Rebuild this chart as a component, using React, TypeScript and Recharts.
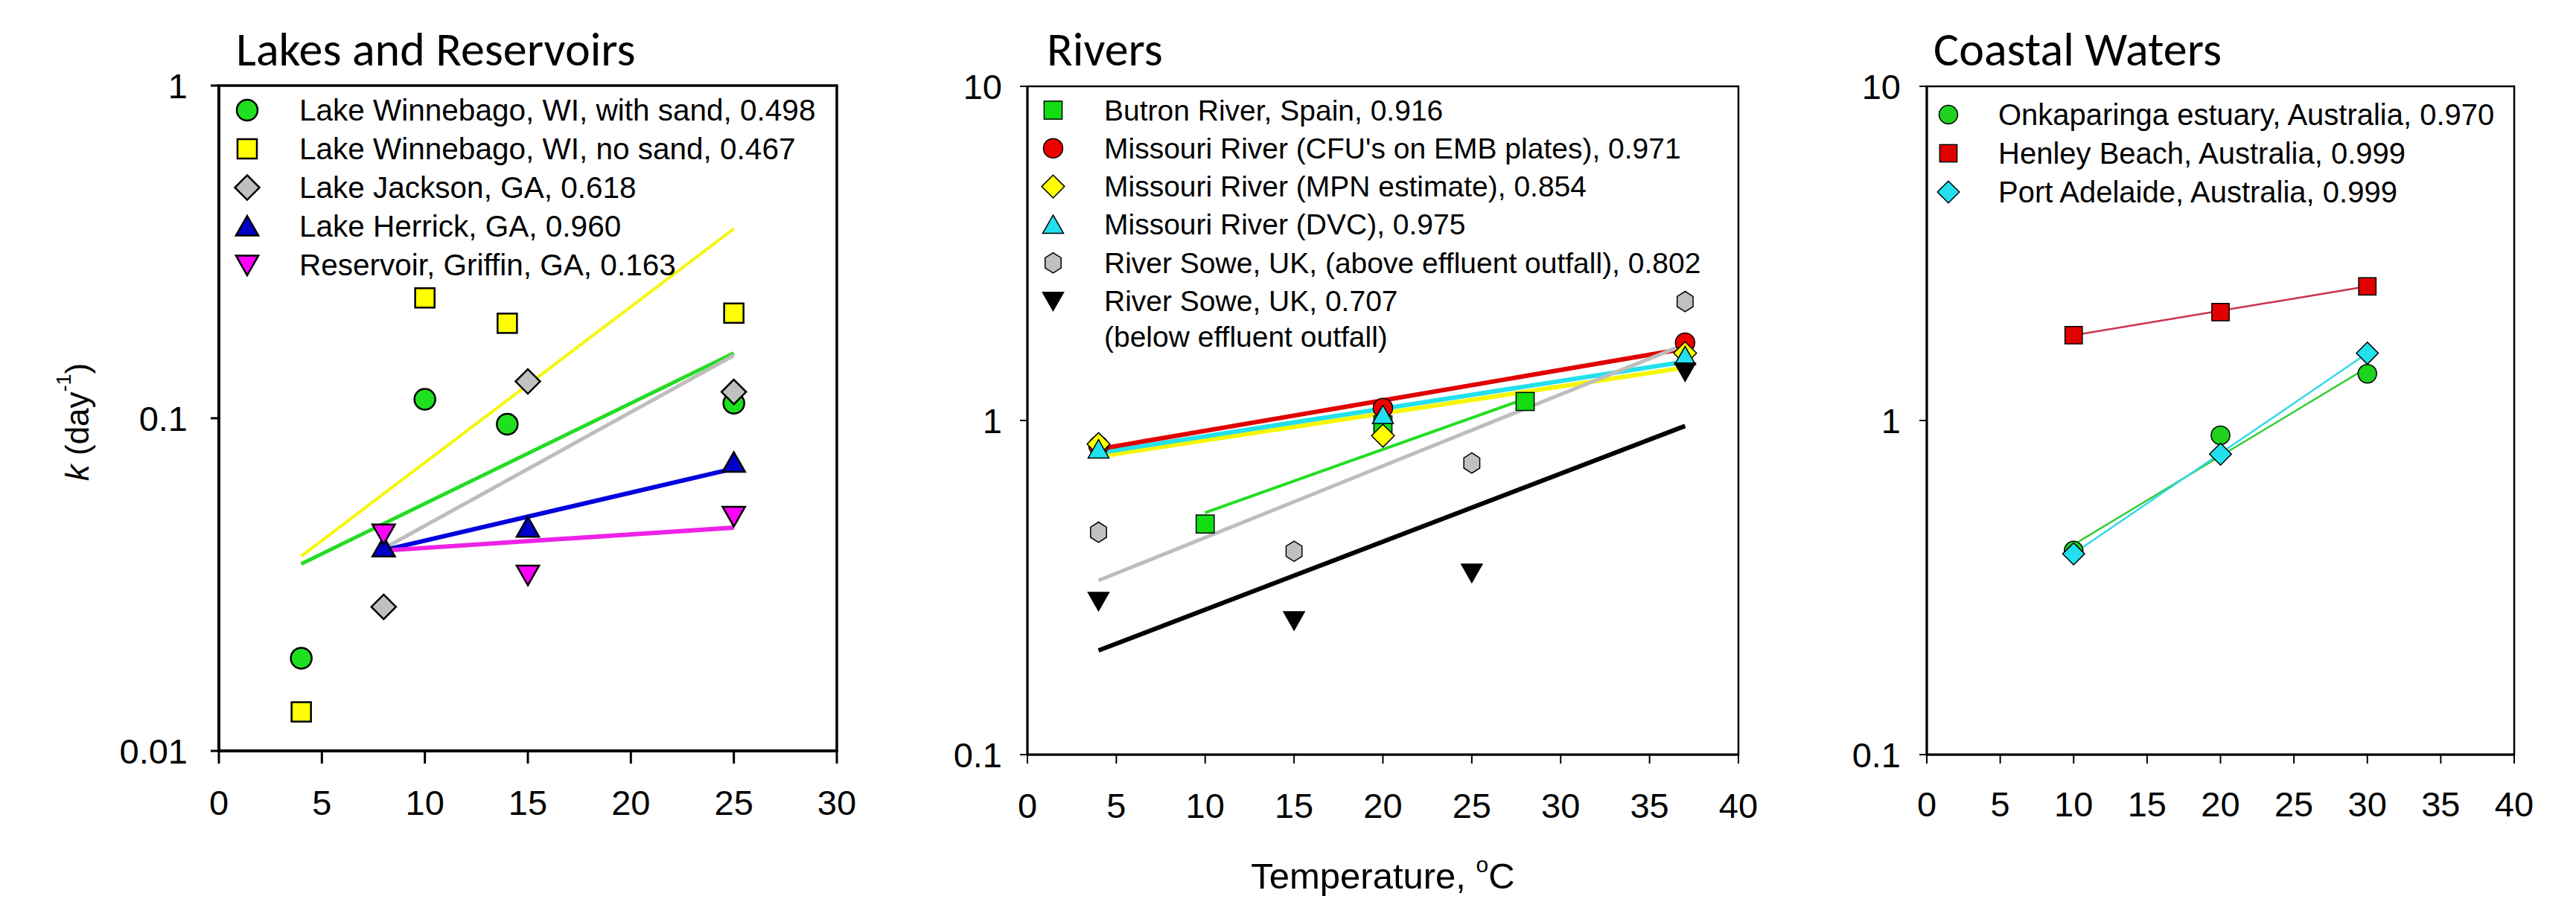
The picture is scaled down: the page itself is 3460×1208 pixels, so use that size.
import React from 'react';
import { ScatterChart, Scatter, XAxis, YAxis, ReferenceArea, Legend } from 'recharts';

type Pt = { x: number; y: number };
type Kind = 'circle' | 'square' | 'diamond' | 'triangle' | 'triangleDown' | 'hexagon';

// ---- Lakes and Reservoirs ----
const lakeWinnebagoSand: Pt[] = [{ x: 4, y: 0.019 }, { x: 10, y: 0.114 }, { x: 14, y: 0.096 }, { x: 25, y: 0.111 }];
const lakeWinnebagoNoSand: Pt[] = [{ x: 4, y: 0.0131 }, { x: 10, y: 0.23 }, { x: 14, y: 0.193 }, { x: 25, y: 0.207 }];
const lakeJackson: Pt[] = [{ x: 8, y: 0.0271 }, { x: 15, y: 0.129 }, { x: 25, y: 0.12 }];
const lakeHerrick: Pt[] = [{ x: 8, y: 0.041 }, { x: 15, y: 0.047 }, { x: 25, y: 0.0736 }];
const reservoirGriffin: Pt[] = [{ x: 8, y: 0.0449 }, { x: 15, y: 0.0338 }, { x: 25, y: 0.0508 }];

const fitWinnebagoSand: Pt[] = [{ x: 4, y: 0.0365 }, { x: 25, y: 0.157 }];
const fitWinnebagoNoSand: Pt[] = [{ x: 4, y: 0.0385 }, { x: 25, y: 0.371 }];
const fitJackson: Pt[] = [{ x: 8, y: 0.0406 }, { x: 25, y: 0.1545 }];
const fitHerrick: Pt[] = [{ x: 8, y: 0.0401 }, { x: 25, y: 0.0706 }];
const fitGriffin: Pt[] = [{ x: 8, y: 0.04 }, { x: 25, y: 0.0469 }];

// ---- Rivers ----
const butronRiver: Pt[] = [{ x: 10, y: 0.49 }, { x: 20, y: 0.97 }, { x: 28, y: 1.14 }];
const missouriCfu: Pt[] = [{ x: 4, y: 0.84 }, { x: 20, y: 1.09 }, { x: 37, y: 1.71 }];
const missouriMpn: Pt[] = [{ x: 4, y: 0.85 }, { x: 20, y: 0.9 }, { x: 37, y: 1.59 }];
const missouriDvc: Pt[] = [{ x: 4, y: 0.82 }, { x: 20, y: 1.04 }, { x: 37, y: 1.56 }];
const soweAbove: Pt[] = [{ x: 4, y: 0.463 }, { x: 15, y: 0.406 }, { x: 25, y: 0.746 }, { x: 37, y: 2.27 }];
const soweBelow: Pt[] = [{ x: 4, y: 0.288 }, { x: 15, y: 0.252 }, { x: 25, y: 0.35 }, { x: 37, y: 1.4 }];

const fitButron: Pt[] = [{ x: 10, y: 0.53 }, { x: 28, y: 1.16 }];
const fitCfu: Pt[] = [{ x: 4, y: 0.821 }, { x: 37, y: 1.64 }];
const fitMpn: Pt[] = [{ x: 4, y: 0.78 }, { x: 37, y: 1.44 }];
const fitDvc: Pt[] = [{ x: 4, y: 0.8 }, { x: 37, y: 1.5 }];
const fitSoweAbove: Pt[] = [{ x: 4, y: 0.332 }, { x: 37, y: 1.69 }];
const fitSoweBelow: Pt[] = [{ x: 4, y: 0.205 }, { x: 37, y: 0.963 }];

// ---- Coastal Waters ----
const onkaparinga: Pt[] = [{ x: 10, y: 0.408 }, { x: 20, y: 0.903 }, { x: 30, y: 1.38 }];
const henleyBeach: Pt[] = [{ x: 10, y: 1.8 }, { x: 20, y: 2.11 }, { x: 30, y: 2.52 }];
const portAdelaide: Pt[] = [{ x: 10, y: 0.399 }, { x: 20, y: 0.793 }, { x: 30, y: 1.59 }];

const fitOnkaparinga: Pt[] = [{ x: 10, y: 0.425 }, { x: 30, y: 1.44 }];
const fitHenley: Pt[] = [{ x: 10, y: 1.8 }, { x: 30, y: 2.52 }];
const fitPortAdelaide: Pt[] = [{ x: 10, y: 0.4 }, { x: 30, y: 1.59 }];

const ticks30 = [0, 5, 10, 15, 20, 25, 30];
const ticks40 = [0, 5, 10, 15, 20, 25, 30, 35, 40];

const FONT = '"Liberation Sans", Arial, sans-serif';
const H = 1208;

interface Series { name: string[]; data: Pt[]; kind: Kind; fill: string }
interface Fit { data: Pt[]; stroke: string; width: number }

function Marker({ cx, cy, kind, fill, size, sw }: { cx: number; cy: number; kind: Kind; fill: string; size: number; sw: number }) {
  const r = size / 2;
  const p = { fill, stroke: '#000', strokeWidth: sw };
  if (kind === 'circle') return <circle cx={cx} cy={cy} r={r} {...p} />;
  if (kind === 'square') return <rect x={cx - r * 0.93} y={cy - r * 0.93} width={r * 1.86} height={r * 1.86} {...p} />;
  if (kind === 'diamond') {
    const d = r * 1.18;
    return <polygon points={`${cx},${cy - d} ${cx + d},${cy} ${cx},${cy + d} ${cx - d},${cy}`} {...p} />;
  }
  if (kind === 'triangle')
    return <polygon points={`${cx},${cy - r} ${cx + r * 1.08},${cy + r * 0.9} ${cx - r * 1.08},${cy + r * 0.9}`} {...p} />;
  if (kind === 'triangleDown')
    return <polygon points={`${cx},${cy + r} ${cx + r * 1.08},${cy - r * 0.9} ${cx - r * 1.08},${cy - r * 0.9}`} {...p} />;
  const pts = [0, 1, 2, 3, 4, 5]
    .map((i) => {
      const a = (Math.PI / 3) * i - Math.PI / 2;
      return `${cx + Math.cos(a) * r * 0.95},${cy + Math.sin(a) * r * 1.05}`;
    })
    .join(' ');
  return <polygon points={pts} {...p} />;
}

function LegendBox({ series, size, sw, rowGap, markerX, textX, fontSize }: { series: Series[]; size: number; sw: number; rowGap: number; markerX: number; textX: number; fontSize: number }) {
  let y = 28;
  const rows: React.ReactNode[] = [];
  series.forEach((s, i) => {
    rows.push(<Marker key={'m' + i} cx={markerX} cy={y} kind={s.kind} fill={s.fill} size={size} sw={sw} />);
    s.name.forEach((line, j) => {
      rows.push(
        <text key={'t' + i + '_' + j} x={textX} y={y + j * 48} dominantBaseline="central" fontSize={fontSize} fontFamily={FONT} fill="#000">
          {line}
        </text>
      );
    });
    y += rowGap + (s.name.length - 1) * 48;
  });
  return (
    <svg width={900} height={y + 10} style={{ display: 'block', overflow: 'visible' }}>
      {rows}
    </svg>
  );
}

interface PanelProps {
  left: number; width: number;
  plotLeft: number; plotRight: number; plotTop: number; plotBottom: number;
  xMax: number; xTicks: number[]; yDomain: [number, number]; yTicks: number[];
  series: Series[]; fits: Fit[];
  size: number; sw: number; axisW: number; tickW: number;
  yTickSize: number; yTickMargin: number; xTickSize: number; xTickMargin: number;
  legendLeft: number; legendTop: number; rowGap: number; markerX: number; textX: number; legendFont: number;
  yLabel?: boolean; xLabel?: boolean;
}

const renderYLabel = (props: any) => {
  const vb = props.viewBox;
  const cx = vb.x + 103;
  const cy = vb.y + vb.height / 2 + 5;
  return (
    <text transform={`rotate(-90 ${cx} ${cy})`} x={cx} y={cy} textAnchor="middle" dominantBaseline="central" fontSize={44} fontFamily={FONT} fill="#000">
      <tspan fontStyle="italic">k</tspan>
      <tspan>{'  (day'}</tspan>
      <tspan fontSize={27} dy={-17}>-1</tspan>
      <tspan dy={17}>)</tspan>
    </text>
  );
};

const renderXLabel = (props: any) => {
  const vb = props.viewBox;
  return (
    <text x={vb.x + vb.width / 2} y={vb.y + 180} textAnchor="middle" fontSize={49} fontFamily={FONT} fill="#000">
      {'Temperature, '}
      <tspan fontSize={30} dy={-22}>o</tspan>
      <tspan dy={22}>C</tspan>
    </text>
  );
};

function Panel(pp: PanelProps) {
  const tickStyle = { fontSize: 47, fill: '#000', fontFamily: FONT };
  return (
    <div style={{ position: 'absolute', left: pp.left, top: 0, width: pp.width, height: H }}>
      <ScatterChart
        width={pp.width}
        height={H}
        margin={{ top: pp.plotTop, right: pp.left + pp.width - pp.plotRight, bottom: 0, left: 0 }}
      >
        <XAxis
          type="number"
          dataKey="x"
          domain={[0, pp.xMax]}
          ticks={pp.xTicks}
          interval={0}
          allowDataOverflow
          height={H - pp.plotBottom}
          tickSize={pp.xTickSize}
          tickMargin={pp.xTickMargin}
          tick={tickStyle}
          axisLine={{ stroke: '#000', strokeWidth: pp.axisW }}
          tickLine={{ stroke: '#000', strokeWidth: pp.tickW }}
          label={pp.xLabel ? renderXLabel : undefined}
        />
        <YAxis
          type="number"
          dataKey="y"
          scale="log"
          domain={pp.yDomain}
          ticks={pp.yTicks}
          interval={0}
          allowDataOverflow
          width={pp.plotLeft - pp.left}
          tickSize={pp.yTickSize}
          tickMargin={pp.yTickMargin}
          tick={tickStyle}
          tickFormatter={(v: number) => String(v)}
          axisLine={{ stroke: '#000', strokeWidth: pp.axisW }}
          tickLine={{ stroke: '#000', strokeWidth: pp.tickW }}
          label={pp.yLabel ? renderYLabel : undefined}
        />
        <ReferenceArea
          x1={0}
          x2={pp.xMax}
          y1={pp.yDomain[0]}
          y2={pp.yDomain[1]}
          fill="none"
          fillOpacity={0}
          stroke="#000"
          strokeWidth={pp.axisW - 0.5}
          ifOverflow="visible"
        />
        {pp.fits.map((f, i) => (
          <Scatter
            key={'fit' + i}
            data={f.data}
            line={{ stroke: f.stroke, strokeWidth: f.width }}
            lineType="joint"
            shape={() => <g />}
            legendType="none"
            isAnimationActive={false}
          />
        ))}
        {pp.series.map((s, i) => (
          <Scatter
            key={'s' + i}
            name={s.name.join(' ')}
            data={s.data}
            legendType="none"
            isAnimationActive={false}
            shape={(p: any) => <Marker cx={p.cx} cy={p.cy} kind={s.kind} fill={s.fill} size={pp.size} sw={pp.sw} />}
          />
        ))}
        <Legend
          layout="horizontal"
          verticalAlign="middle"
          align="center"
          wrapperStyle={{ left: pp.legendLeft, top: pp.legendTop, width: 900, overflow: 'visible' }}
          content={() => (
            <LegendBox series={pp.series} size={pp.size} sw={pp.sw} rowGap={pp.rowGap} markerX={pp.markerX} textX={pp.textX} fontSize={pp.legendFont} />
          )}
        />
      </ScatterChart>
    </div>
  );
}

const lakeSeries: Series[] = [
  { name: ['Lake Winnebago, WI, with sand, 0.498'], data: lakeWinnebagoSand, kind: 'circle', fill: '#1ee01e' },
  { name: ['Lake Winnebago, WI, no sand, 0.467'], data: lakeWinnebagoNoSand, kind: 'square', fill: '#ffff00' },
  { name: ['Lake Jackson, GA, 0.618'], data: lakeJackson, kind: 'diamond', fill: '#c0c0c0' },
  { name: ['Lake Herrick, GA, 0.960'], data: lakeHerrick, kind: 'triangle', fill: '#0000c8' },
  { name: ['Reservoir, Griffin, GA, 0.163'], data: reservoirGriffin, kind: 'triangleDown', fill: '#ff00ff' },
];
const lakeFits: Fit[] = [
  { data: fitWinnebagoNoSand, stroke: '#f6f600', width: 4 },
  { data: fitWinnebagoSand, stroke: '#22dd22', width: 5 },
  { data: fitJackson, stroke: '#bdbdbd', width: 5 },
  { data: fitHerrick, stroke: '#0000dd', width: 6 },
  { data: fitGriffin, stroke: '#ee22e6', width: 6 },
];

const riverSeries: Series[] = [
  { name: ['Butron River, Spain, 0.916'], data: butronRiver, kind: 'square', fill: '#11dd11' },
  { name: ["Missouri River (CFU's on EMB plates), 0.971"], data: missouriCfu, kind: 'circle', fill: '#ee0000' },
  { name: ['Missouri River (MPN estimate), 0.854'], data: missouriMpn, kind: 'diamond', fill: '#ffff00' },
  { name: ['Missouri River (DVC), 0.975'], data: missouriDvc, kind: 'triangle', fill: '#22e0ee' },
  { name: ['River Sowe, UK, (above effluent outfall), 0.802'], data: soweAbove, kind: 'hexagon', fill: '#c0c0c0' },
  { name: ['River Sowe, UK, 0.707', '(below effluent outfall)'], data: soweBelow, kind: 'triangleDown', fill: '#000000' },
];
const riverFits: Fit[] = [
  { data: fitMpn, stroke: '#f6f600', width: 6 },
  { data: fitDvc, stroke: '#22e0ee', width: 6 },
  { data: fitCfu, stroke: '#e00000', width: 6 },
  { data: fitButron, stroke: '#22dd22', width: 4 },
  { data: fitSoweAbove, stroke: '#bdbdbd', width: 5 },
  { data: fitSoweBelow, stroke: '#000000', width: 6 },
];

const coastSeries: Series[] = [
  { name: ['Onkaparinga estuary, Australia, 0.970'], data: onkaparinga, kind: 'circle', fill: '#1ed21e' },
  { name: ['Henley Beach, Australia, 0.999'], data: henleyBeach, kind: 'square', fill: '#e00000' },
  { name: ['Port Adelaide, Australia, 0.999'], data: portAdelaide, kind: 'diamond', fill: '#22e0ee' },
];
const coastFits: Fit[] = [
  { data: fitOnkaparinga, stroke: '#33cc33', width: 2.5 },
  { data: fitHenley, stroke: '#c8324a', width: 2.5 },
  { data: fitPortAdelaide, stroke: '#33d8ea', width: 2.5 },
];

const titleStyle = { fontSize: 64, fontFamily: 'Carlito, Lato, sans-serif', fill: '#000' };

export default function App() {
  return (
    <div style={{ position: 'absolute', left: 0, top: 0, width: 3460, height: H, background: '#fff', overflow: 'hidden', fontFamily: FONT }}>
      <Panel
        left={0} width={1180} plotLeft={294} plotRight={1124} plotTop={115} plotBottom={1009}
        xMax={30} xTicks={ticks30} yDomain={[0.01, 1]} yTicks={[0.01, 0.1, 1]}
        series={lakeSeries} fits={lakeFits} size={28} sw={2.5} axisW={4} tickW={3}
        yTickSize={11} yTickMargin={31} xTickSize={17} xTickMargin={36}
        legendLeft={300} legendTop={120} rowGap={52} markerX={32} textX={102} legendFont={40.5}
        yLabel
      />
      <Panel
        left={1180} width={1200} plotLeft={1380} plotRight={2335} plotTop={116} plotBottom={1014}
        xMax={40} xTicks={ticks40} yDomain={[0.1, 10]} yTicks={[0.1, 1, 10]}
        series={riverSeries} fits={riverFits} size={26} sw={1.5} axisW={3} tickW={2}
        yTickSize={10} yTickMargin={24} xTickSize={12} xTickMargin={40}
        legendLeft={202} legendTop={120} rowGap={51.3} markerX={32.5} textX={101} legendFont={39}
        xLabel
      />
      <Panel
        left={2380} width={1080} plotLeft={2588} plotRight={3377} plotTop={116} plotBottom={1014}
        xMax={40} xTicks={ticks40} yDomain={[0.1, 10]} yTicks={[0.1, 1, 10]}
        series={coastSeries} fits={coastFits} size={25} sw={1.5} axisW={3} tickW={2}
        yTickSize={10} yTickMargin={25} xTickSize={12} xTickMargin={38}
        legendLeft={205} legendTop={126} rowGap={52} markerX={32} textX={99} legendFont={40}
      />
      <svg width={3460} height={H} style={{ position: 'absolute', left: 0, top: 0, pointerEvents: 'none' }}>
        <text x={317} y={88} {...titleStyle}>Lakes and Reservoirs</text>
        <text x={1406} y={88} {...titleStyle}>Rivers</text>
        <text x={2597} y={88} {...titleStyle}>Coastal Waters</text>
      </svg>
    </div>
  );
}
